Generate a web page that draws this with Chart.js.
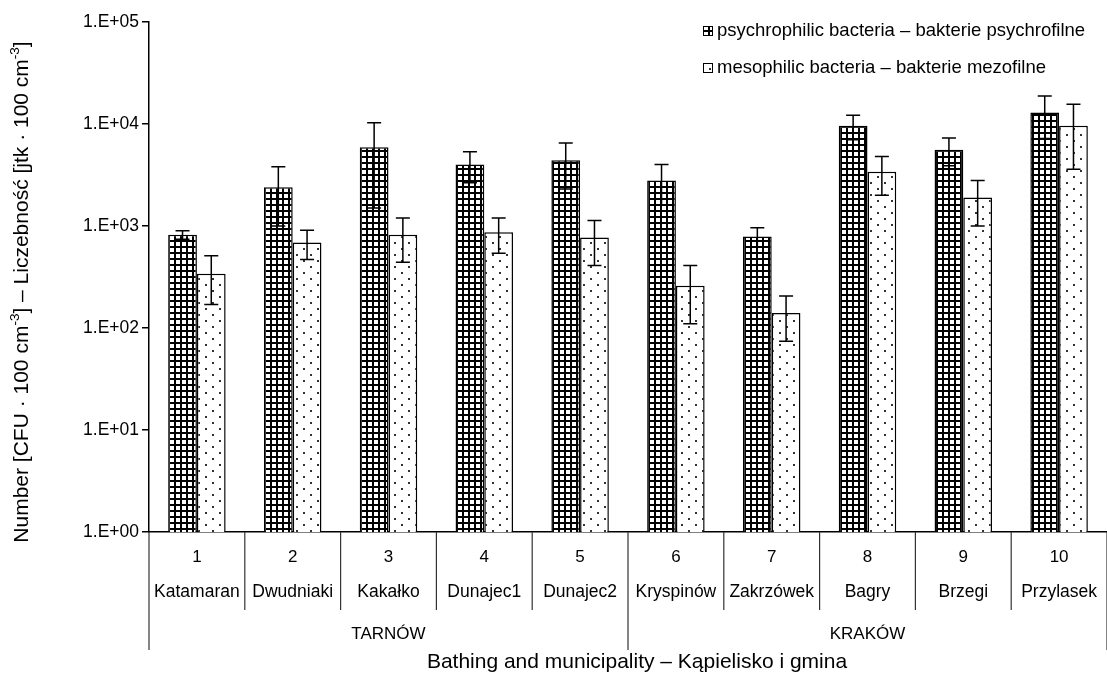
<!DOCTYPE html>
<html>
<head>
<meta charset="utf-8">
<script src="https://cdn.jsdelivr.net/npm/chart.js@4.4.0/dist/chart.umd.min.js"></script>
<style>
  html, body { margin: 0; padding: 0; background: #fff; overflow: hidden; }
  #wrap { width: 1107px; height: 681px; }
</style>
</head>
<body>
<div id="wrap"><canvas id="chart"></canvas></div>
<script>
const siteNumbers = ['1', '2', '3', '4', '5', '6', '7', '8', '9', '10'];
const siteNames = ['Katamaran', 'Dwudniaki', 'Kakałko', 'Dunajec1', 'Dunajec2',
                   'Kryspinów', 'Zakrzówek', 'Bagry', 'Brzegi', 'Przylasek'];
const municipalities = ['TARNÓW', 'KRAKÓW'];
const municipalitySizes = [5, 5];

const psychrophilic = [820, 2400, 5900, 4000, 4400, 2800, 790, 9600, 5600, 13000];
const psychrophilicSd = [80, 1400, 4400, 1350, 2100, 1200, 170, 2600, 1700, 5800];
const mesophilic = [340, 690, 820, 870, 770, 260, 140, 3400, 1900, 9600];
const mesophilicSd = [170, 220, 380, 330, 360, 150, 66, 1400, 900, 6000];

const yTicks = [1, 10, 100, 1000, 10000, 100000];

const FONT = '"Liberation Sans", Arial, sans-serif';

// hatch fills
function gridPattern() {
    const c = document.createElement('canvas');
    c.width = 6; c.height = 6;
    const g = c.getContext('2d');
    g.fillStyle = '#fff';
    g.fillRect(0, 0, 6, 6);
    g.fillStyle = '#000';
    g.fillRect(0, 0, 6, 2);
    g.fillRect(0, 0, 2, 6);
    return g.createPattern(c, 'repeat');
}
function dotPattern() {
    const c = document.createElement('canvas');
    c.width = 14; c.height = 12;
    const g = c.getContext('2d');
    g.fillStyle = '#fff';
    g.fillRect(0, 0, 14, 12);
    g.fillStyle = '#333';
    g.fillRect(2, 2, 2, 2);
    g.fillRect(9, 8, 2, 2);
    return g.createPattern(c, 'repeat');
}
const gridFill = gridPattern();
const dotFill = dotPattern();

const errorBars = {
    id: 'errorBars',
    afterDatasetsDraw(chart) {
        const ctx = chart.ctx;
        const y = chart.scales.y;
        const sds = [psychrophilicSd, mesophilicSd];
        ctx.save();
        ctx.strokeStyle = '#000';
        ctx.lineWidth = 1.5;
        chart.data.datasets.forEach((ds, i) => {
            chart.getDatasetMeta(i).data.forEach((bar, j) => {
                const v = ds.data[j], sd = sds[i][j];
                const top = y.getPixelForValue(v + sd);
                const bot = y.getPixelForValue(Math.max(v - sd, 1));
                ctx.beginPath();
                ctx.moveTo(bar.x, top); ctx.lineTo(bar.x, bot);
                ctx.moveTo(bar.x - 7, top); ctx.lineTo(bar.x + 7, top);
                ctx.moveTo(bar.x - 7, bot); ctx.lineTo(bar.x + 7, bot);
                ctx.stroke();
            });
        });
        ctx.restore();
    }
};

const decorations = {
    id: 'decorations',
    afterDraw(chart) {
        const ctx = chart.ctx;
        const x = chart.scales.x;
        const area = chart.chartArea;
        const half = (x.getPixelForValue(1) - x.getPixelForValue(0)) / 2;
        ctx.save();
        ctx.fillStyle = '#000';
        ctx.strokeStyle = '#333';
        ctx.lineWidth = 1.2;
        ctx.textAlign = 'center';
        ctx.textBaseline = 'middle';

        // category rows
        siteNumbers.forEach((n, i) => {
            const cx = x.getPixelForValue(i);
            ctx.font = '17px ' + FONT;
            ctx.fillText(n, cx, 557);
            ctx.font = '17.5px ' + FONT;
            ctx.fillText(siteNames[i], cx, 592);
        });
        // separators
        let start = 0;
        const groupEdges = [0];
        municipalitySizes.forEach(s => { start += s; groupEdges.push(start); });
        for (let k = 0; k <= siteNumbers.length; k++) {
            const bx = x.getPixelForValue(0) - half + k * 2 * half;
            const long = groupEdges.includes(k);
            ctx.beginPath();
            ctx.moveTo(bx, area.bottom);
            ctx.lineTo(bx, long ? 650 : 610);
            ctx.stroke();
        }
        // municipality row
        ctx.font = '17px ' + FONT;
        let first = 0;
        municipalities.forEach((m, g) => {
            const last = first + municipalitySizes[g] - 1;
            const cx = (x.getPixelForValue(first) + x.getPixelForValue(last)) / 2;
            ctx.fillText(m, cx, 634);
            first = last + 1;
        });
        // x title
        ctx.font = '21px ' + FONT;
        ctx.fillText('Bathing and municipality – Kąpielisko i gmina', 637, 662);

        // y title with superscripts
        const parts = [
            ['Number [CFU · 100 cm', false], ['-3', true],
            ['] – Liczebność [jtk · 100 cm', false], ['-3', true], [']', false]
        ];
        const big = '21px ' + FONT, small = '13.5px ' + FONT;
        let total = 0;
        parts.forEach(p => { ctx.font = p[1] ? small : big; total += ctx.measureText(p[0]).width; });
        ctx.translate(22, 292);
        ctx.rotate(-Math.PI / 2);
        ctx.textAlign = 'left';
        let px = -total / 2;
        parts.forEach(p => {
            ctx.font = p[1] ? small : big;
            ctx.fillText(p[0], px, p[1] ? -7 : 0);
            px += ctx.measureText(p[0]).width;
        });
        ctx.restore();

        // legend
        ctx.save();
        ctx.font = '18.5px ' + FONT;
        ctx.textBaseline = 'middle';
        const legend = [
            [chart.data.datasets[0].label, gridFill, 31],
            [chart.data.datasets[1].label, dotFill, 68]
        ];
        legend.forEach(([label, fill, ly]) => {
            ctx.fillStyle = fill;
            ctx.fillRect(703, ly - 5, 10, 10);
            ctx.strokeStyle = '#000';
            ctx.lineWidth = 1;
            ctx.strokeRect(703.5, ly - 4.5, 9, 9);
            ctx.fillStyle = '#000';
            ctx.fillText(label, 717, ly);
        });
        ctx.restore();
    }
};

new Chart(document.getElementById('chart'), {
    type: 'bar',
    data: {
        labels: siteNumbers,
        datasets: [{
            label: 'psychrophilic bacteria – bakterie psychrofilne',
            data: psychrophilic,
            backgroundColor: gridFill,
            borderColor: '#000',
            borderWidth: 1.5
        }, {
            label: 'mesophilic bacteria – bakterie mezofilne',
            data: mesophilic,
            backgroundColor: dotFill,
            borderColor: '#000',
            borderWidth: 1.5
        }]
    },
    options: {
        responsive: true,
        maintainAspectRatio: false,
        animation: false,
        layout: { padding: { top: 22, left: 0, right: 0, bottom: 0 } },
        datasets: { bar: { categoryPercentage: 0.6, barPercentage: 1.0 } },
        plugins: { legend: { display: false }, tooltip: { enabled: false } },
        scales: {
            x: {
                offset: true,
                grid: { display: false },
                border: { display: true, color: '#000', width: 1.5 },
                ticks: { display: false },
                afterFit: s => { s.height = 149; }
            },
            y: {
                type: 'logarithmic',
                min: 1,
                max: 100000,
                afterBuildTicks: s => { s.ticks = yTicks.map(v => ({ value: v })); },
                afterFit: s => { s.width = 149; },
                border: { display: true, color: '#000', width: 1.5 },
                grid: { display: true, drawOnChartArea: false, drawTicks: true, tickLength: 7, color: '#000', lineWidth: 1.5 },
                ticks: {
                    color: '#000',
                    padding: 3,
                    font: { family: FONT, size: 17.5 },
                    callback: v => '1.E+' + String(Math.round(Math.log10(v))).padStart(2, '0')
                }
            }
        }
    },
    plugins: [errorBars, decorations]
});
</script>
</body>
</html>
